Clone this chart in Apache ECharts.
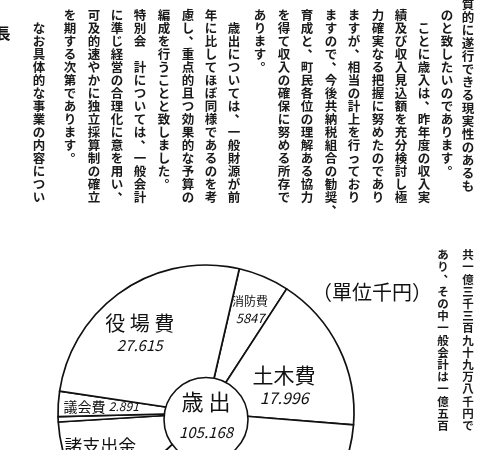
<!DOCTYPE html>
<html>
<head>
    <meta charset="UTF-8">
    <title>歳出</title>
    <style>
        html, body {
            height: 100%;
            width: 100%;
            margin: 0;
            padding: 0;
            background: #fff;
        }
    </style>
    <script src="https://cdn.jsdelivr.net/npm/echarts@6/dist/echarts.min.js"></script>
</head>
<body>
<div id="main" style="width: 479px; height: 450px;"></div>

<script type="text/javascript">
    // 歳出の内訳 (単位千円)
    var sliceNames = ['消防費', '土木費', '', '諸支出金', '', '議会費', '役場費'];
    var sliceValues = [5847, 17996, 38719, 11500, 600, 2891, 27615];
    var totalName = '歳出';
    var totalValue = 105168;
    var unitText = '（單位千円）';

    // 本文 (縦書き、右から左へ)
    var colTexts = [
        '質的に遂行できる現実性のあるも',
        'のと致したいのであります。',
        '　ことに歳入は、昨年度の収入実',
        '績及び収入見込額を充分検討し極',
        '力確実なる把握に努めたのであり',
        'ますが、相当の計上を行っており',
        'ますので、今後共納税組合の勧奨、',
        '育成と、町民各位の理解ある協力',
        'を得て収入の確保に努める所存で',
        'あります。',
        '　歳出については、一般財源が前',
        '年に比してほぼ同様であるのを考',
        '慮し、重点的且つ効果的な予算の',
        '編成を行うことと致しました。',
        '特別会　計については、一般会計',
        'に準じ経営の合理化に意を用い、',
        '可及的速やかに独立採算制の確立',
        'を期する次第であります。',
        '　なお具体的な事業の内容につい'
    ];
    var sideTexts = [
        '共一億三千三百九十九万八千円で',
        'あり、その中一般会計は一億五百'
    ];
    var edgeText = '長';

    // 配置とスタイル
    var colX = [468, 447, 424, 401, 378, 354, 331, 307, 284, 260,
        234, 211, 188, 164, 140, 117, 94, 70, 39];
    var colTop = [-2, 9, 9, 9, 9, 9, 9, 9, 9, 9, 9, 9, 9, 9, 9, 9, 9, 9, 9];
    var sideX = [468, 443];
    var labelStyle = [
        {nameSize: 12, valSize: 13, gap: false, sep: false, oneLine: false, dx: 14, dy: -32},
        {nameSize: 21, valSize: 16, gap: false, sep: true, oneLine: false, dx: 9, dy: 6},
        null,
        {nameSize: 18, valSize: 15, gap: false, sep: true, oneLine: false, dx: -35, dy: 12},
        null,
        {nameSize: 14, valSize: 12, gap: false, sep: true, oneLine: true, dx: -28, dy: -2},
        {nameSize: 20, valSize: 15, gap: true, sep: true, oneLine: false, dx: -23, dy: -16}
    ];
    var font = '"Noto Sans CJK JP", sans-serif';

    function fmt(v, sep) {
        var s = String(v);
        return sep ? s.replace(/\B(?=(\d{3})+(?!\d))/g, '.') : s;
    }

    function verticalColumn(text, x, top, pitch, size) {
        var out = [];
        var chars = text.split('');
        for (var j = 0; j < chars.length; j++) {
            var ch = chars[j];
            if (ch === '　') continue;
            var punct = (ch === '、' || ch === '。');
            out.push({
                type: 'text',
                x: x + (punct ? size * 0.55 : 0),
                y: top + j * pitch - (punct ? size * 0.55 : 0),
                silent: true,
                style: {
                    text: ch,
                    fontSize: size,
                    fontFamily: font,
                    fontWeight: 'bold',
                    fill: '#1a1a1a',
                    align: 'center',
                    verticalAlign: 'top'
                }
            });
        }
        return out;
    }

    function createPieChart() {
        var myChart = echarts.init(document.getElementById('main'));

        var data = sliceNames.map(function (name, i) {
            var s = labelStyle[i];
            var item = {name: name, value: sliceValues[i]};
            if (!s) {
                item.label = {show: false};
                return item;
            }
            var shown = s.gap ? name.split('').join(' ') : name;
            item.label = {
                show: true,
                position: 'inside',
                formatter: '{n|' + shown + '}' + (s.oneLine ? ' ' : '\n') + '{v|' + fmt(sliceValues[i], s.sep) + '}',
                rich: {
                    n: {fontSize: s.nameSize, fontFamily: font, color: '#111', lineHeight: s.nameSize + 4},
                    v: {fontSize: s.valSize, fontFamily: font, fontStyle: 'italic', color: '#111', lineHeight: s.valSize + 4}
                }
            };
            return item;
        });

        var graphics = [];
        colTexts.forEach(function (t, i) {
            graphics = graphics.concat(verticalColumn(t, colX[i], colTop[i], 13, 12.5));
        });
        sideTexts.forEach(function (t, i) {
            graphics = graphics.concat(verticalColumn(t, sideX[i], 249, 12.2, 11.5));
        });
        graphics.push({
            type: 'text', x: 3, y: 26, silent: true,
            style: {text: edgeText, fontSize: 15, fontFamily: font, fontWeight: 'bold', fill: '#111', align: 'center', verticalAlign: 'top'}
        });
        graphics.push({
            type: 'text', x: 372, y: 292, silent: true,
            style: {text: unitText, fontSize: 20, fontFamily: font, fill: '#111', align: 'center', verticalAlign: 'middle'}
        });

        var option = {
            backgroundColor: '#fff',
            animation: false,
            graphic: graphics,
            series: [
                {
                    type: 'pie',
                    center: [206, 413],
                    radius: [0, 148],
                    startAngle: 77,
                    clockwise: true,
                    avoidLabelOverlap: false,
                    silent: true,
                    itemStyle: {
                        color: '#fff',
                        borderColor: '#111',
                        borderWidth: 1.7
                    },
                    labelLine: {show: false},
                    labelLayout: function (params) {
                        var s = labelStyle[params.dataIndex];
                        return s ? {dx: s.dx, dy: s.dy} : {};
                    },
                    data: data
                },
                {
                    type: 'pie',
                    z: 3,
                    center: [206, 419.5],
                    radius: [0, 42],
                    silent: true,
                    itemStyle: {
                        color: '#fff',
                        borderColor: '#111',
                        borderWidth: 1.6
                    },
                    label: {
                        show: true,
                        position: 'center',
                        formatter: function (p) {
                            return '{n|' + p.name.split('').join(' ') + '}\n{v|' + fmt(p.value, true) + '}';
                        },
                        rich: {
                            n: {fontSize: 22, fontFamily: font, color: '#111', lineHeight: 25},
                            v: {fontSize: 15, fontFamily: font, fontStyle: 'italic', color: '#111', lineHeight: 35}
                        }
                    },
                    labelLine: {show: false},
                    data: [{name: totalName, value: totalValue}]
                }
            ]
        };
        myChart.setOption(option);
    }

    createPieChart();
</script>
</body>
</html>
